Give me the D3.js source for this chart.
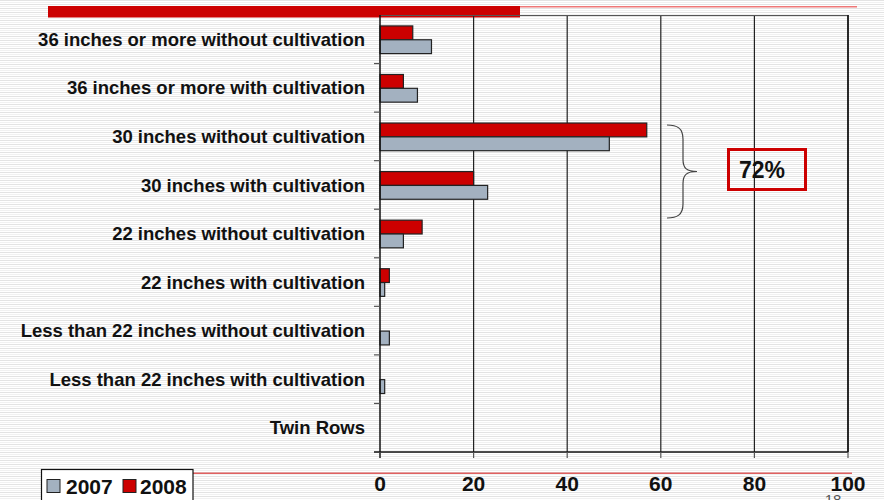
<!DOCTYPE html>
<html><head><meta charset="utf-8">
<script src="https://cdn.jsdelivr.net/npm/d3@7"></script>
<style>body{margin:0;background:#fff;}svg{display:block;font-family:"Liberation Sans",Arial,sans-serif;}</style>
</head><body>
<svg id="c" width="884" height="500"></svg>
<script>
const categories = [
  "36 inches or more without cultivation",
  "36 inches or more with cultivation",
  "30 inches without cultivation",
  "30 inches with cultivation",
  "22 inches without cultivation",
  "22 inches with cultivation",
  "Less than 22 inches without cultivation",
  "Less than 22 inches with cultivation",
  "Twin Rows"
];
const values2007 = [11, 8, 49, 23, 5, 1, 2, 1, 0];
const values2008 = [7, 5, 57, 20, 9, 2, 0, 0, 0];
const seriesNames = ["2007", "2008"];
const seriesColors = ["#a3b1c0", "#cc0000"];
const xTicks = [0, 20, 40, 60, 80, 100];
const annotation = "72%";
const pageNumber = "18";

(function(){
const svg = d3.select("#c");
const defs = svg.append("defs");
const pat = defs.append("pattern").attr("id","stripes").attr("width",8).attr("height",4).attr("patternUnits","userSpaceOnUse");
pat.append("rect").attr("width",8).attr("height",4).attr("fill","#ffffff");
pat.append("rect").attr("y",0).attr("width",8).attr("height",1).attr("fill","#e3e3e3");
pat.append("rect").attr("y",2).attr("width",8).attr("height",1).attr("fill","#f1f1f1");
svg.append("rect").attr("width",884).attr("height",500).attr("fill","url(#stripes)");

// title decoration
svg.append("rect").attr("x",48).attr("y",6).attr("width",472).attr("height",11.5).attr("fill","#cc0000");
svg.append("rect").attr("x",520).attr("y",6).attr("width",337).attr("height",1.5).attr("fill","#ee7777");

const pl = 380, pr = 848, pt = 15, pb = 452;
const x = d3.scaleLinear().domain([0,100]).range([pl,pr]);
const y = d3.scaleBand().domain(categories).range([pt,pb]).paddingInner(0).paddingOuter(0);
const bw = y.bandwidth();

// gridlines
svg.append("g").selectAll("line").data(xTicks.slice(1)).join("line")
  .attr("x1",d=>x(d)).attr("x2",d=>x(d)).attr("y1",pt).attr("y2",pb)
  .attr("stroke","#222").attr("stroke-width",1.2);
// top frame
svg.append("line").attr("x1",pl).attr("x2",pr).attr("y1",pt+0.5).attr("y2",pt+0.5).attr("stroke","#555").attr("stroke-width",1);

// bars
const data = categories.map((c,i)=>({c, v07: values2007[i], v08: values2008[i]}));
const barH = bw*0.285;
const off08 = bw*0.225;
const g = svg.append("g");
g.selectAll("rect.b08").data(data.filter(d=>d.v08>0)).join("rect").attr("class","b08")
  .attr("x",x(0)).attr("y",d=>y(d.c)+off08).attr("width",d=>x(d.v08)-x(0)).attr("height",barH)
  .attr("fill",seriesColors[1]).attr("stroke","#222").attr("stroke-width",1.2);
g.selectAll("rect.b07").data(data.filter(d=>d.v07>0)).join("rect").attr("class","b07")
  .attr("x",x(0)).attr("y",d=>y(d.c)+off08+barH).attr("width",d=>x(d.v07)-x(0)).attr("height",barH)
  .attr("fill",seriesColors[0]).attr("stroke","#222").attr("stroke-width",1.2);

// y axis
svg.append("line").attr("x1",pl).attr("x2",pl).attr("y1",pt).attr("y2",pb+6).attr("stroke","#111").attr("stroke-width",1.5);
svg.append("g").selectAll("line").data(categories.slice(1)).join("line")
  .attr("x1",pl-6).attr("x2",pl).attr("y1",d=>y(d)).attr("y2",d=>y(d)).attr("stroke","#555").attr("stroke-width",1.2);
svg.append("g").selectAll("text").data(categories).join("text")
  .attr("x",365).attr("y",d=>y(d)+bw/2).attr("dy","0.36em").attr("text-anchor","end")
  .attr("font-size",18.5).attr("font-weight","bold").attr("fill","#111").text(d=>d);

// x axis
svg.append("line").attr("x1",pl-6).attr("x2",pr).attr("y1",pb).attr("y2",pb).attr("stroke","#111").attr("stroke-width",1.5);
svg.append("g").selectAll("line").data(xTicks).join("line")
  .attr("x1",d=>x(d)).attr("x2",d=>x(d)).attr("y1",pb).attr("y2",pb+6).attr("stroke","#555").attr("stroke-width",1.2);
// right frame
svg.append("line").attr("x1",pr).attr("x2",pr).attr("y1",pt).attr("y2",pb).attr("stroke","#111").attr("stroke-width",1.5);

// bottom red line
svg.append("rect").attr("x",193).attr("y",472.5).attr("width",659).attr("height",1.5).attr("fill","#e06060");

svg.append("g").selectAll("text").data(xTicks).join("text")
  .attr("x",d=>x(d)).attr("y",491).attr("text-anchor","middle")
  .attr("font-size",21).attr("font-weight","bold").attr("fill","#111").text(d=>d);

// page number
svg.append("text").attr("x",833).attr("y",505).attr("text-anchor","middle").attr("font-size",15).attr("fill","#555").text(pageNumber);

// legend
svg.append("rect").attr("x",41.5).attr("y",469.5).attr("width",151.5).attr("height",40).attr("fill","#fff").attr("stroke","#111").attr("stroke-width",1.2);
const lx = [47, 123], tx = [66, 140];
seriesNames.forEach((s,i)=>{
  svg.append("rect").attr("x",lx[i]).attr("y",479.5).attr("width",13).attr("height",13).attr("fill",seriesColors[i]).attr("stroke","#222").attr("stroke-width",1);
  svg.append("text").attr("x",tx[i]).attr("y",494).attr("font-size",21).attr("font-weight","bold").attr("fill","#111").text(s);
});

// brace
const b0 = 125, b1 = 218, bm = (b0+b1)/2, bx = 667;
const brace = `M${bx},${b0} C${bx+10},${b0} ${bx+16},${b0+3} ${bx+16},${b0+14} L${bx+16},${bm-12} C${bx+16},${bm-3} ${bx+20},${bm} ${bx+30},${bm} C${bx+20},${bm} ${bx+16},${bm+3} ${bx+16},${bm+12} L${bx+16},${b1-14} C${bx+16},${b1-3} ${bx+10},${b1} ${bx},${b1}`;
svg.append("path").attr("d",brace).attr("fill","none").attr("stroke","#444").attr("stroke-width",1.2);

// annotation box
svg.append("rect").attr("x",728.5).attr("y",149.5).attr("width",77).attr("height",40).attr("fill","none").attr("stroke","#cc0000").attr("stroke-width",3);
svg.append("text").attr("x",762).attr("y",178).attr("text-anchor","middle").attr("font-size",23).attr("font-weight","bold").attr("fill","#111").text(annotation);
})();
</script>
</body></html>
